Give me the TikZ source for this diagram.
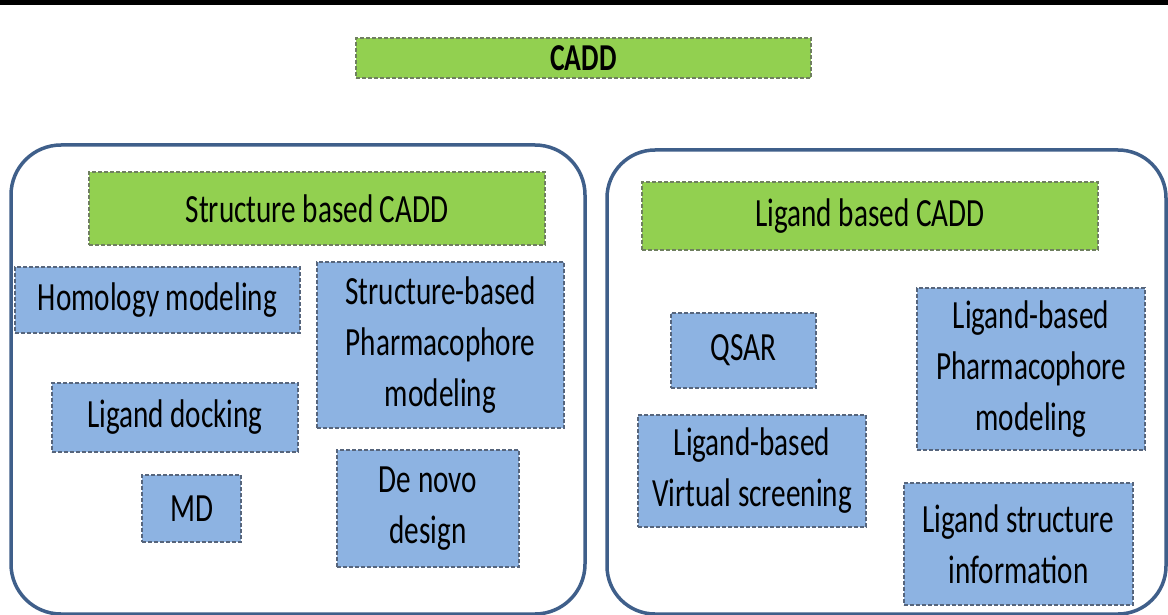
\documentclass[tikz,border=0pt]{standalone}
\usepackage{fontspec}
\setmainfont{Carlito}[FakeStretch=0.73]
\definecolor{cgreen}{HTML}{92D050}
\definecolor{cblue}{HTML}{8DB3E2}
\definecolor{cpanel}{HTML}{3F5F8A}
\definecolor{cgborder}{HTML}{6F7F60}
\definecolor{cbborder}{HTML}{56657C}
\tikzset{
  greenbox/.style={rectangle, fill=cgreen, draw=cgborder, line width=1.2pt, dash pattern=on 4pt off 2pt, inner sep=0pt, align=center, font=\fontsize{40}{51}\selectfont},
  bluebox/.style={rectangle, fill=cblue, draw=cbborder, line width=1.2pt, dash pattern=on 4pt off 2pt, inner sep=0pt, align=center, font=\fontsize{40}{51}\selectfont},
  panel/.style={draw=cpanel, line width=3.5pt, rounded corners=50pt}
}
\begin{document}
\begin{tikzpicture}[x=1pt, y=-1pt]
\useasboundingbox (0,0) rectangle (1168,615);
\fill[white] (0,0) rectangle (1168,615);
\fill[black] (0,0) rectangle (1168,5);
% panels
\draw[panel] (11,145) rectangle (585,614);
\draw[panel, rounded corners=48pt] (607,150) rectangle (1166,614);
% title
\node[greenbox, minimum width=455pt, minimum height=40pt, font=\fontsize{38}{46}\selectfont\bfseries] (cadd) at (583.5,58) {CADD};
% structure based
\node[greenbox, minimum width=456pt, minimum height=73pt] (sbc) at (317,208.5) {Structure based CADD};
\node[bluebox, minimum width=285pt, minimum height=66pt] (hom) at (157.5,300) {Homology modeling};
\node[bluebox, minimum width=247pt, minimum height=166pt] (sbp) at (440.5,345) {Structure-based\\Pharmacophore\\modeling};
\node[bluebox, minimum width=246pt, minimum height=69pt] (ldock) at (175,417.5) {Ligand docking};
\node[bluebox, minimum width=99pt, minimum height=67pt] (md) at (191.5,508.5) {MD};
\node[bluebox, minimum width=182pt, minimum height=117pt] (denovo) at (428,508.5) {De novo\\design};
% ligand based
\node[greenbox, minimum width=456pt, minimum height=68pt] (lbc) at (870,216) {Ligand based CADD};
\node[bluebox, minimum width=145pt, minimum height=75pt] (qsar) at (743.5,350.5) {QSAR};
\node[bluebox, minimum width=228pt, minimum height=162pt] (lbp) at (1031,369) {Ligand-based\\Pharmacophore\\modeling};
\node[bluebox, minimum width=228pt, minimum height=112pt] (vs) at (752,471) {Ligand-based\\Virtual screening};
\node[bluebox, minimum width=229pt, minimum height=122pt] (lsi) at (1018.5,544) {Ligand structure\\information};
\end{tikzpicture}
\end{document}
